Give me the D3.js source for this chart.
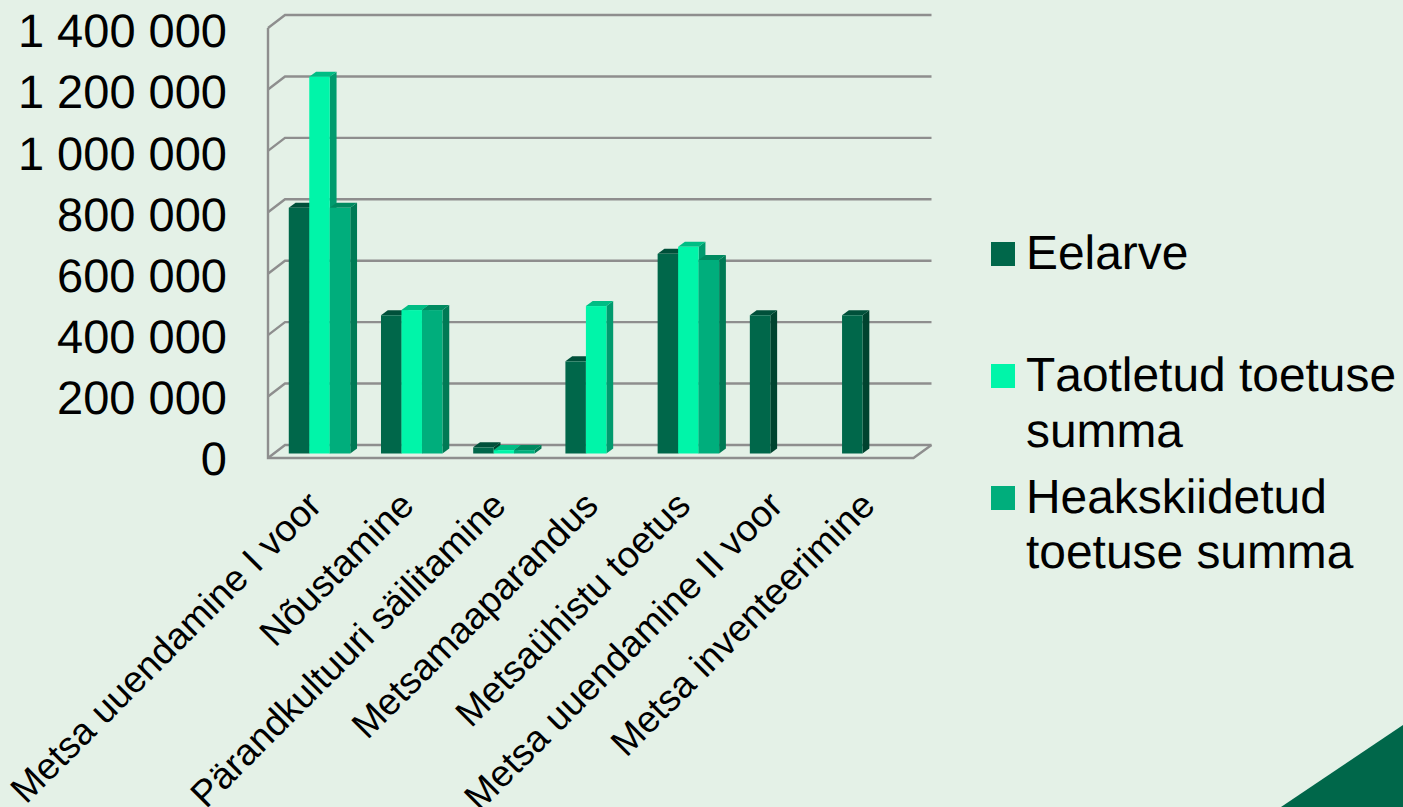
<!DOCTYPE html>
<html><head><meta charset="utf-8">
<script src="https://cdn.jsdelivr.net/npm/d3@7"></script>
<style>html,body{margin:0;padding:0;background:#e4f1e7;overflow:hidden}svg{display:block}text{font-family:"Liberation Sans",Arial,sans-serif;fill:#000;text-rendering:geometricPrecision;font-kerning:none}</style>
</head><body><svg id="c" width="1403" height="807"></svg>
<script>
const categories=["Metsa uuendamine I voor","Nõustamine","Pärandkultuuri säilitamine","Metsamaaparandus","Metsaühistu toetus","Metsa uuendamine II voor","Metsa inventeerimine"];
const eelarve=[800000,450000,20000,300000,650000,450000,450000];
const taotletud=[1227000,467000,11000,480000,673000,null,null];
const heakskiidetud=[800000,467000,11000,null,630000,null,null];
const seriesNames=[["Eelarve"],["Taotletud toetuse","summa"],["Heakskiidetud","toetuse summa"]];
const tickValues=[0,200000,400000,600000,800000,1000000,1200000,1400000];
const palette=[{f:"#00674a",s:"#00432f",t:"#00503a"},{f:"#00f5a9",s:"#009b6e",t:"#00bd84"},{f:"#00ae7c",s:"#007a55",t:"#008a60"}];
const seriesValues=[eelarve,taotletud,heakskiidetud];

const svg=d3.select("#c");
const L=268,R=913.5,B=458,T=28,DX=17,DY=-13,BDX=6.8,BDY=-5,MX=5.4,MY=-4.5;
const y=d3.scaleLinear().domain([0,1400000]).range([B,T]);
const yLabel=d3.scaleLinear().domain([0,1400000]).range([457.5,30]);
const x=d3.scaleBand().domain(categories).range([L,R]).paddingInner(0.3333).paddingOuter(0.1667);
const xs=d3.scaleBand().domain([0,1,2]).range([0,x.bandwidth()]);
const grid="#8e8e8e";

svg.append("path").attr("d",`M1403,725L1403,807L1281,807Z`).attr("fill","#00674a");

const g=svg.append("g").attr("fill","none").attr("stroke",grid).attr("stroke-width",2.4);
tickValues.forEach(v=>{
  g.append("path").attr("d",d3.line()([[L,y(v)],[L+DX,y(v)+DY],[R+DX+1,y(v)+DY]]));
});
g.append("path").attr("d",d3.line()([[L,T],[L,B],[R,B],[R+DX+1,B+DY]]));

const marks=svg.append("g");
categories.forEach((c,i)=>{
  seriesValues.forEach((vals,k)=>{
    const v=vals[i]; if(v==null) return;
    const x0=x(c)+xs(k)+MX,x1=x0+xs.bandwidth(),y0=y(0)+MY,y1=y(v)+MY,p=palette[k];
    marks.append("path").attr("fill",p.s).attr("d",d3.line()([[x1,y0],[x1+BDX,y0+BDY],[x1+BDX,y1+BDY],[x1,y1]])+"Z");
    marks.append("path").attr("fill",p.t).attr("d",d3.line()([[x0,y1],[x0+BDX,y1+BDY],[x1+BDX,y1+BDY],[x1,y1]])+"Z");
    marks.append("rect").attr("fill",p.f).attr("x",x0).attr("y",y1).attr("width",xs.bandwidth()).attr("height",y0-y1);
  });
});

const fmt=v=>d3.format(",")(v).replace(/,/g," ");
const ay=svg.append("g").attr("transform","translate(227,0)").call(d3.axisLeft(yLabel).tickValues(tickValues).tickFormat(fmt).tickSize(0).tickPadding(0));
ay.select(".domain").remove();
ay.selectAll("text").attr("font-size",47).attr("dy","0.36em").style("font-family",'"Liberation Sans"').attr("fill","#000");

const ax=svg.append("g").attr("transform",`translate(0,${B})`).call(d3.axisBottom(x).tickSize(0).tickFormat(d=>d));
ax.select(".domain").remove();
ax.selectAll("text").attr("font-size",37.3).attr("text-anchor","end").attr("fill","#000").style("font-family",'"Liberation Sans"')
  .attr("y",0).attr("dy",0).attr("transform","translate(9.5,49.5) rotate(-45)");

const lsy=[242,364,486],base=[[269],[390.7,446.7],[513.3,568.3]];
const lg=svg.append("g");
seriesNames.forEach((lines,k)=>{
  lg.append("rect").attr("x",991).attr("y",lsy[k]).attr("width",24).attr("height",24).attr("fill",palette[k].f);
  lines.forEach((t,j)=>lg.append("text").attr("x",1026).attr("y",base[k][j]).attr("font-size",47.9).text(t));
});
</script></body></html>
